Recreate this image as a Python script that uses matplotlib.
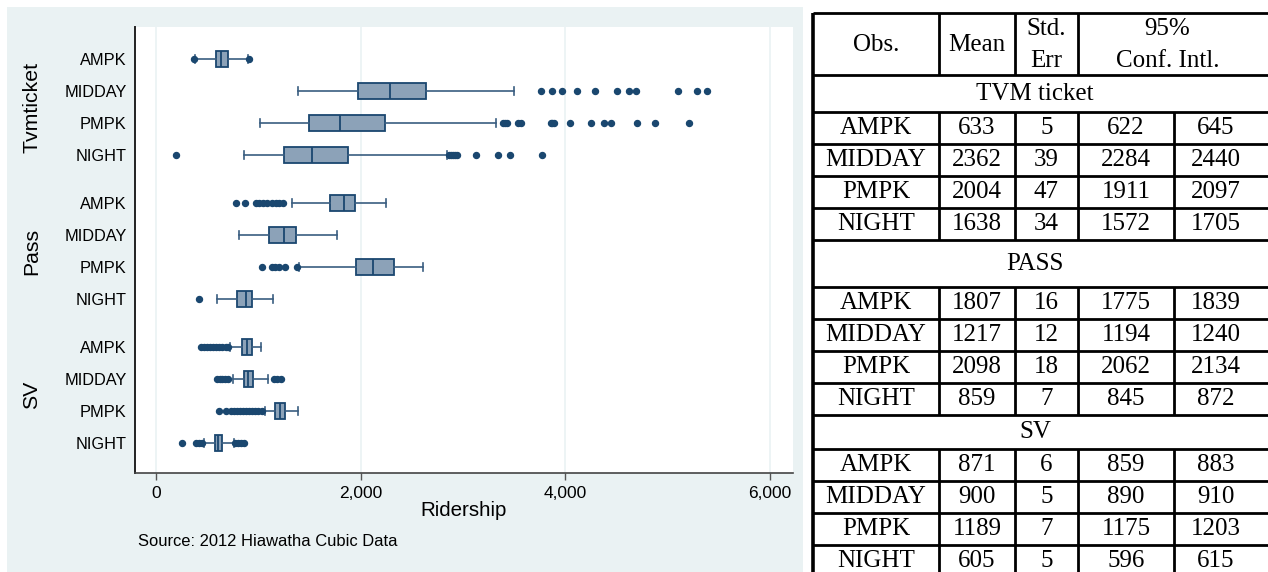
import matplotlib.pyplot as plt
from matplotlib.patches import Rectangle
from matplotlib.ticker import FuncFormatter

plt.rcParams['font.family'] = ['Liberation Sans', 'DejaVu Sans']

# --- box plot data (ridership) ---
groups = ['Tvmticket', 'Pass', 'SV']
periods = ['AMPK', 'MIDDAY', 'PMPK', 'NIGHT']

whislo = [385, 1390, 1015, 860,
          1330, 815, 1395, 600,
          720, 756, 1064, 470]
q1 = [590, 1975, 1500, 1250,
      1703, 1103, 1953, 795,
      843, 859, 1161, 577]
med = [640, 2285, 1795, 1525,
       1839, 1255, 2124, 882,
       892, 898, 1210, 610]
q3 = [705, 2635, 2238, 1880,
      1946, 1365, 2325, 941,
      934, 950, 1265, 649]
whishi = [895, 3495, 3325, 2840,
          2245, 1768, 2611, 1145,
          1022, 1096, 1389, 762]
fliers = [
    [375, 905],
    [3760, 3870, 3965, 4115, 4290, 4510, 4620, 4695, 5100, 5285, 5385],
    [3395, 3415, 3435, 3535, 3570, 3860, 3875, 3895, 4050, 4250, 4380, 4450, 4700, 4880, 5210],
    [200, 2860, 2880, 2900, 2925, 2945, 3125, 3340, 3460, 3770],
    [780, 875, 975, 1010, 1050, 1090, 1130, 1170, 1205, 1245],
    [],
    [1040, 1135, 1165, 1200, 1265, 1380],
    [420],
    [440, 470, 500, 530, 560, 590, 620, 650, 680, 705],
    [600, 625, 650, 675, 700, 1150, 1185, 1220],
    [615, 680, 730, 760, 790, 820, 850, 880, 910, 940, 970, 1000, 1035],
    [250, 390, 420, 450, 770, 800, 830, 860],
]

# --- table data ---
tbl_sections = ['TVM ticket', 'PASS', 'SV']
tbl_mean = [633, 2362, 2004, 1638, 1807, 1217, 2098, 859, 871, 900, 1189, 605]
tbl_se = [5, 39, 47, 34, 16, 12, 18, 7, 6, 5, 7, 5]
tbl_lo = [622, 2284, 1911, 1572, 1775, 1194, 2062, 845, 859, 890, 1175, 596]
tbl_hi = [645, 2440, 2097, 1705, 1839, 1240, 2134, 872, 883, 910, 1203, 615]

navy = '#1A476F'
boxfill = '#8CA2B8'
panel = '#EAF2F3'

W, H = 1268, 572
fig = plt.figure(figsize=(W / 100, H / 100), dpi=100)
fig.patch.set_facecolor('white')

# light background panel behind the chart
bg = fig.add_axes([0, 0, 1, 1], zorder=0)
bg.set_xlim(0, W)
bg.set_ylim(H, 0)
bg.axis('off')
bg.add_patch(Rectangle((7, 7), 796, H - 7, facecolor=panel, edgecolor='none'))

# --- box plot ---
ax = fig.add_axes([135 / W, (H - 473) / H, (793 - 135) / W, (473 - 27) / H], zorder=2)
ax.set_facecolor('white')

positions = [g * 4.5 + p for g in range(len(groups)) for p in range(len(periods))]
stats = []
for i in range(len(positions)):
    stats.append(dict(med=med[i], q1=q1[i], q3=q3[i], whislo=whislo[i],
                      whishi=whishi[i], fliers=fliers[i]))

ax.bxp(stats, positions=positions, orientation='horizontal', widths=0.5,
       patch_artist=True, capwidths=0.26,
       boxprops=dict(facecolor=boxfill, edgecolor=navy, linewidth=1.3),
       medianprops=dict(color=navy, linewidth=1.3),
       whiskerprops=dict(color='#3A5D80', linewidth=1.2),
       capprops=dict(color='#3A5D80', linewidth=1.2),
       flierprops=dict(marker='o', markerfacecolor=navy, markeredgecolor=navy,
                       markersize=4.3, linestyle='none'))

ax.set_xlim(-205, 6227)
ax.set_ylim(12.94, -1.0)
ax.set_xticks([0, 2000, 4000, 6000])
ax.xaxis.set_major_formatter(FuncFormatter(lambda v, p: f'{int(v):,}'))
ax.set_yticks(positions)
ax.set_yticklabels(periods * len(groups))
ax.tick_params(axis='y', length=0, pad=6, labelsize=11.8)
ax.tick_params(axis='x', length=5, width=1, color='#555555', pad=4, labelsize=12.5)
ax.grid(axis='x', color=panel, linewidth=1.2)
ax.set_axisbelow(True)
for s in ['top', 'right']:
    ax.spines[s].set_visible(False)
ax.spines['left'].set_color('#222222')
ax.spines['left'].set_linewidth(1.4)
ax.spines['bottom'].set_color('#444444')
ax.spines['bottom'].set_linewidth(1.2)
ax.set_xlabel('Ridership', fontsize=14.8, labelpad=0)

for g, name in enumerate(groups):
    ax.text(-0.157, g * 4.5 + 1.5, name, transform=ax.get_yaxis_transform(),
            rotation=90, ha='center', va='center', fontsize=15.3)

bg.text(138, 542, 'Source: 2012 Hiawatha Cubic Data', ha='left', va='center', fontsize=11.9)

# --- table on the right ---
tb = fig.add_axes([0, 0, 1, 1], zorder=3)
tb.set_xlim(0, W)
tb.set_ylim(H, 0)
tb.axis('off')
tb.patch.set_alpha(0)

cols = [813, 939, 1015, 1078, 1174, 1257]
lw = 2
header_bottom = 75
section_h = [37, 47, 34]
row_h = 32

# header
tb.hlines(13, cols[0], W, color='black', lw=lw)
tb.hlines(header_bottom, cols[0], W, color='black', lw=lw)
for x in cols[1:4]:
    tb.vlines(x, 13, header_bottom, color='black', lw=lw)
fkw = dict(family='Liberation Serif', fontsize=18, ha='center', va='center')
tb.text((cols[0] + cols[1]) / 2, 45, 'Obs.', **fkw)
tb.text((cols[1] + cols[2]) / 2, 45, 'Mean', **fkw)
tb.text((cols[2] + cols[3]) / 2, 29, 'Std.', **fkw)
tb.text((cols[2] + cols[3]) / 2, 61, 'Err', **fkw)
tb.text((cols[3] + cols[5]) / 2, 29, '95%', **fkw)
tb.text((cols[3] + cols[5]) / 2, 61, 'Conf. Intl.', **fkw)

y = header_bottom
for g, sec in enumerate(tbl_sections):
    tb.text((cols[0] + cols[5]) / 2, y + section_h[g] / 2, sec, **fkw)
    y += section_h[g]
    tb.hlines(y, cols[0], W, color='black', lw=lw)
    for p, per in enumerate(periods):
        i = g * 4 + p
        cells = [per, tbl_mean[i], tbl_se[i], tbl_lo[i], tbl_hi[i]]
        for c, val in enumerate(cells):
            tb.text((cols[c] + cols[c + 1]) / 2, y + row_h / 2, str(val), **fkw)
        for x in cols[1:5]:
            tb.vlines(x, y, y + row_h, color='black', lw=lw)
        y += row_h
        tb.hlines(y, cols[0], W, color='black', lw=lw)

tb.vlines(cols[0], 13, H, color='black', lw=2.6)

fig.savefig('out.png', dpi=100)
